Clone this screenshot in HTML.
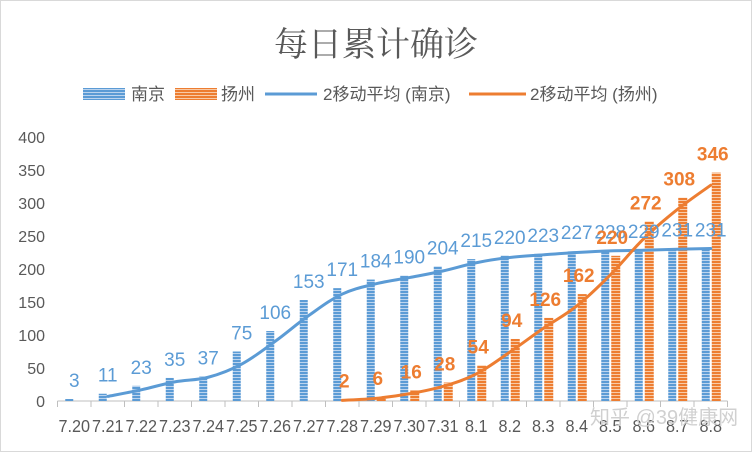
<!DOCTYPE html>
<html><head><meta charset="utf-8"><style>
html,body{margin:0;padding:0;background:#fff}
svg text{font-family:"Liberation Sans","Noto Sans CJK SC",sans-serif}
</style></head><body>
<svg id="chart" width="752" height="452" viewBox="0 0 752 452" xmlns="http://www.w3.org/2000/svg">
<defs>
<pattern id="pb" width="4" height="3" patternUnits="userSpaceOnUse"><rect width="4" height="3" fill="#bcd4ee"/><rect width="4" height="2" fill="#5b9bd5"/></pattern>
<pattern id="po" width="4" height="3" patternUnits="userSpaceOnUse"><rect width="4" height="3" fill="#f8cba8"/><rect width="4" height="2" fill="#ed7d31"/></pattern>
</defs>
<rect x="0.5" y="0.5" width="751" height="451" fill="#fff" stroke="#d9d9d9"/>
<text x="376" y="56" text-anchor="middle" font-size="34" fill="#595959" style="font-family:'Liberation Serif','Noto Serif CJK SC',serif">每日累计确诊</text>
<g id="legend" font-size="17" fill="#595959">
<rect x="83" y="88" width="42" height="12" fill="url(#pb)"/>
<text x="131" y="100" fill="#595959">南京</text>
<rect x="175" y="88" width="42" height="12" fill="url(#po)"/>
<text x="221" y="100" fill="#595959">扬州</text>
<line x1="265" y1="94" x2="317" y2="94" stroke="#5b9bd5" stroke-width="3"/>
<text x="323" y="100" fill="#595959">2移动平均 (南京)</text>
<line x1="469" y1="94" x2="526" y2="94" stroke="#ed7d31" stroke-width="3"/>
<text x="530" y="100" fill="#595959">2移动平均 (扬州)</text>
</g>
<g id="plot"></g>
<text x="590" y="424" font-size="20" fill="#d0d0d0">知乎 @39健康网</text>
</svg>
<script>
const categories=["7.20","7.21","7.22","7.23","7.24","7.25","7.26","7.27","7.28","7.29","7.30","7.31","8.1","8.2","8.3","8.4","8.5","8.6","8.7","8.8"];
const nanjing=[3,11,23,35,37,75,106,153,171,184,190,204,215,220,223,227,228,229,231,231];
const yangzhou=[null,null,null,null,null,null,null,null,2,6,16,28,54,94,126,162,220,272,308,346];
const yTicks=[0,50,100,150,200,250,300,350,400];
const NS="http://www.w3.org/2000/svg";
const g=document.getElementById('plot');
const X0=57.5,X1=727.5,Y0=401,Y1=137,YMAX=400;
const step=(X1-X0)/categories.length;
const cx=i=>X0+(i+0.5)*step;
const y=v=>Y0-(v/YMAX)*(Y0-Y1);
function el(t,a){const e=document.createElementNS(NS,t);for(const k in a)e.setAttribute(k,a[k]);g.appendChild(e);return e;}
yTicks.forEach(v=>{const t=el('text',{x:45,y:y(v)+6,'text-anchor':'end','font-size':16,fill:'#595959'});t.textContent=v;

});
const ax=el('line',{x1:X0,y1:Y0,x2:X1,y2:Y0,stroke:'#bfbfbf','stroke-width':1});


for(let i=0;i<=categories.length;i++){const tk=el('line',{x1:X0+i*step,y1:Y0,x2:X0+i*step,y2:Y0+6,stroke:'#bfbfbf'});

}
categories.forEach((c,i)=>{const t=el('text',{x:cx(i),y:432,'text-anchor':'middle','font-size':18,fill:'#595959',transform:'translate('+cx(i)+',0) scale(0.9,1) translate('+(-cx(i))+',0)'});t.textContent=c;

});
const BW=8;
nanjing.forEach((v,i)=>{const r=el('rect',{x:cx(i)-BW-1,y:y(v),width:BW,height:Y0-y(v),fill:'url(#pb)'});

});
yangzhou.forEach((v,i)=>{if(v==null)return;const r=el('rect',{x:cx(i)+1,y:y(v),width:BW+1,height:Y0-y(v),fill:'url(#po)'});

});
function mavg(a){const o=[];for(let i=1;i<a.length;i++){if(a[i]!=null)o.push([i,(a[i]+(a[i-1]||0))/2]);}return o;}
function smooth(pts){let d='M'+pts[0][0]+','+pts[0][1];for(let i=0;i<pts.length-1;i++){const p0=pts[i-1]||pts[i],p1=pts[i],p2=pts[i+1],p3=pts[i+2]||p2;const t=0.18;
d+=' C'+(p1[0]+(p2[0]-p0[0])*t)+','+(p1[1]+(p2[1]-p0[1])*t)+' '+(p2[0]-(p3[0]-p1[0])*t)+','+(p2[1]-(p3[1]-p1[1])*t)+' '+p2[0]+','+p2[1];}return d;}
[[nanjing,'#5b9bd5','line-nanjing-avg'],[yangzhou,'#ed7d31','line-yangzhou-avg']].forEach(([a,c,n])=>{
const pts=mavg(a).map(([i,v])=>[cx(i),y(v)]);
const p=el('path',{d:smooth(pts),fill:'none',stroke:c,'stroke-width':3,'stroke-linecap':'round'});

});
nanjing.forEach((v,i)=>{const t=el('text',{x:cx(i),y:y(v)-12,'text-anchor':'middle','font-size':19,fill:'#5b9bd5'});t.textContent=v;

});
yangzhou.forEach((v,i)=>{if(v==null)return;const t=el('text',{x:cx(i)+2,y:y(v)-12,'text-anchor':'middle','font-size':19,'font-weight':'bold',fill:'#ed7d31'});t.textContent=v;

});
</script>
</body></html>
